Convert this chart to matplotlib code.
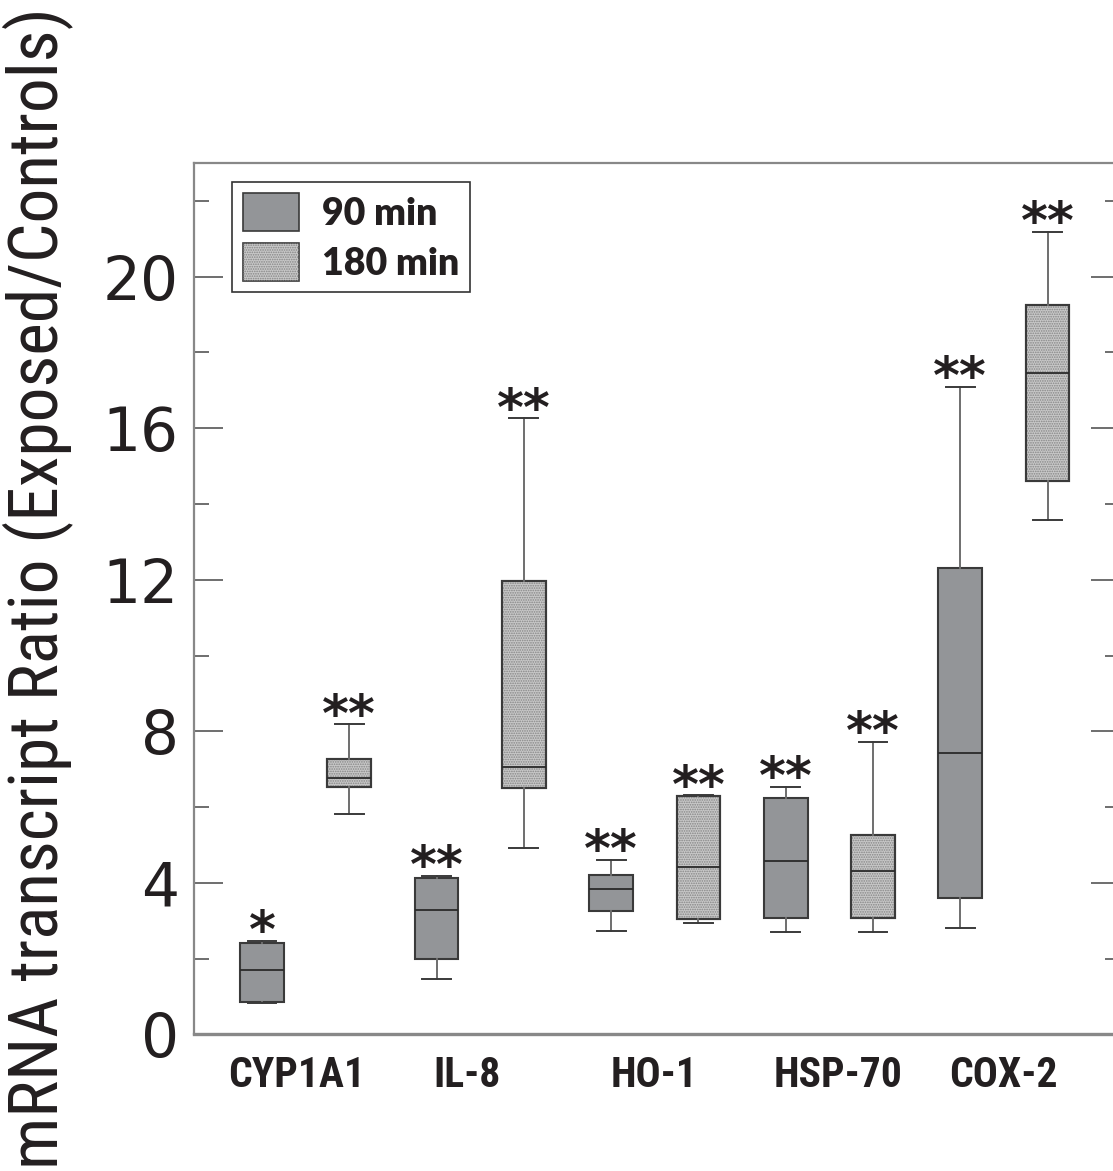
import matplotlib
matplotlib.use('Agg')
import matplotlib.pyplot as plt
from matplotlib.patches import Patch, PathPatch
from matplotlib.legend_handler import HandlerTuple
from matplotlib import font_manager

# ---------------- data ----------------
groups = ["CYP1A1", "IL-8", "HO-1", "HSP-70", "COX-2"]

whislo_90 = [0.82, 1.47, 2.73, 2.70, 2.81]
q1_90 = [0.85, 1.99, 3.26, 3.08, 3.60]
med_90 = [1.71, 3.28, 3.84, 4.57, 7.43]
q3_90 = [2.41, 4.12, 4.22, 6.25, 12.32]
whishi_90 = [2.47, 4.19, 4.60, 6.53, 17.10]

whislo_180 = [5.83, 4.93, 2.94, 2.70, 13.58]
q1_180 = [6.52, 6.50, 3.05, 3.08, 14.60]
med_180 = [6.77, 7.07, 4.42, 4.32, 17.47]
q3_180 = [7.28, 11.97, 6.29, 5.25, 19.26]
whishi_180 = [8.18, 16.26, 6.31, 7.72, 21.19]

sig_90 = ["*", "**", "**", "**", "**"]
sig_180 = ["**", "**", "**", "**", "**"]

series_labels = ["90 min", "180 min"]
y_major = [0, 4, 8, 12, 16, 20]
y_minor = [2, 6, 10, 14, 18, 22]
ylabel = "mRNA transcript Ratio (Exposed/Controls)"

# ---------------- layout ----------------
pos_90 = [1, 3, 5, 7, 9]
pos_180 = [2, 4, 6, 8, 10]
label_pos = [1.40, 3.35, 5.49, 7.60, 9.49]


def pick(names, default='DejaVu Sans'):
    avail = {f.name for f in font_manager.fontManager.ttflist}
    for n in names:
        if n in avail:
            return n
    return default


narrow = pick(['Liberation Sans Narrow', 'Roboto Condensed', 'Liberation Sans'])
boldfont = pick(['Liberation Sans Narrow', 'Roboto Condensed', 'Lato', 'Open Sans'])
legfont = pick(['Lato', 'Open Sans'])

txt = '#231f20'
dark_face = '#939598'
light_face = '#c8c8c8'
edge = '#3a3a3a'
hatch_col = '#858585'
plt.rcParams['hatch.linewidth'] = 0.8

fig = plt.figure(figsize=(11.13, 11.71), dpi=100)
ax = fig.add_axes([194 / 1113, 1 - 1034.4 / 1171, 926 / 1113, 871.4 / 1171])


def stats(lo, q1, med, q3, hi):
    return [dict(whislo=lo[i], q1=q1[i], med=med[i], q3=q3[i], whishi=hi[i], fliers=[])
            for i in range(len(med))]


common = dict(widths=0.5, capwidths=0.33, patch_artist=True, showfliers=False,
              medianprops=dict(color='#2a2a2a', linewidth=1.3),
              whiskerprops=dict(color='#6e6e6e', linewidth=1.4),
              capprops=dict(color='#3a3a3a', linewidth=1.4))

ax.bxp(stats(whislo_90, q1_90, med_90, q3_90, whishi_90), positions=pos_90,
       boxprops=dict(facecolor=dark_face, edgecolor=edge, linewidth=1.5), **common)
r180 = ax.bxp(stats(whislo_180, q1_180, med_180, q3_180, whishi_180), positions=pos_180,
              boxprops=dict(facecolor=light_face, edgecolor=edge, linewidth=1.5), **common)
for b in r180['boxes']:
    b.set_zorder(1)
    ax.add_patch(PathPatch(b.get_path(), facecolor='none', edgecolor=hatch_col,
                           hatch='.......', linewidth=0, zorder=1.1))
    ax.add_patch(PathPatch(b.get_path(), facecolor='none', edgecolor=edge,
                           linewidth=1.5, zorder=1.2))

# significance stars
for p, hi, s in list(zip(pos_90, whishi_90, sig_90)) + list(zip(pos_180, whishi_180, sig_180)):
    ax.annotate(s, xy=(p, hi), xytext=(0, -4.5), textcoords='offset points',
                ha='center', va='baseline', fontsize=37, fontweight='bold',
                family='DejaVu Sans', color=txt)

ax.set_xlim(0.221, 10.83)
ax.set_ylim(0, 23)
ax.set_yticks(y_major)
ax.set_yticks(y_minor, minor=True)
ax.set_yticklabels([str(v) for v in y_major], fontsize=43, color=txt, family='DejaVu Sans')
ax.tick_params(axis='y', which='both', direction='in', right=True, color='#555555', width=1.2, pad=11)
ax.tick_params(axis='y', which='major', length=21)
ax.tick_params(axis='y', which='minor', length=10.8)
ax.set_xticks(label_pos)
ax.set_xticklabels(groups, fontsize=30, fontweight='heavy', family=boldfont, color=txt)
ax.tick_params(axis='x', length=0, pad=15)

for sp in ax.spines.values():
    sp.set_color('#888888')
    sp.set_linewidth(1.6)
ax.spines['bottom'].set_linewidth(2.4)

# legend
h90 = Patch(facecolor=dark_face, edgecolor=edge, linewidth=1.2)
h180 = (Patch(facecolor=light_face, edgecolor=edge, linewidth=1.2),
        Patch(facecolor='none', edgecolor=hatch_col, hatch='.......', linewidth=0))
leg = ax.legend([h90, h180], series_labels, loc='upper left',
                bbox_to_anchor=(0.0407, 0.9785), borderaxespad=0,
                handler_map={tuple: HandlerTuple(ndivide=1, pad=0)},
                prop=dict(family=legfont, weight='heavy', size=27),
                handlelength=1.5, handleheight=1.2, handletextpad=0.6,
                labelspacing=0.3, borderpad=0.3, fancybox=False, frameon=True)
leg.get_frame().set_edgecolor('black')
leg.get_frame().set_linewidth(1.2)
for t in leg.get_texts():
    t.set_color(txt)

fig.text(38 / 1113, 1 - 588 / 1171, ylabel, rotation=90, ha='center', va='center',
         fontsize=50, family=narrow, color=txt)

fig.savefig('out.png', dpi=100)
